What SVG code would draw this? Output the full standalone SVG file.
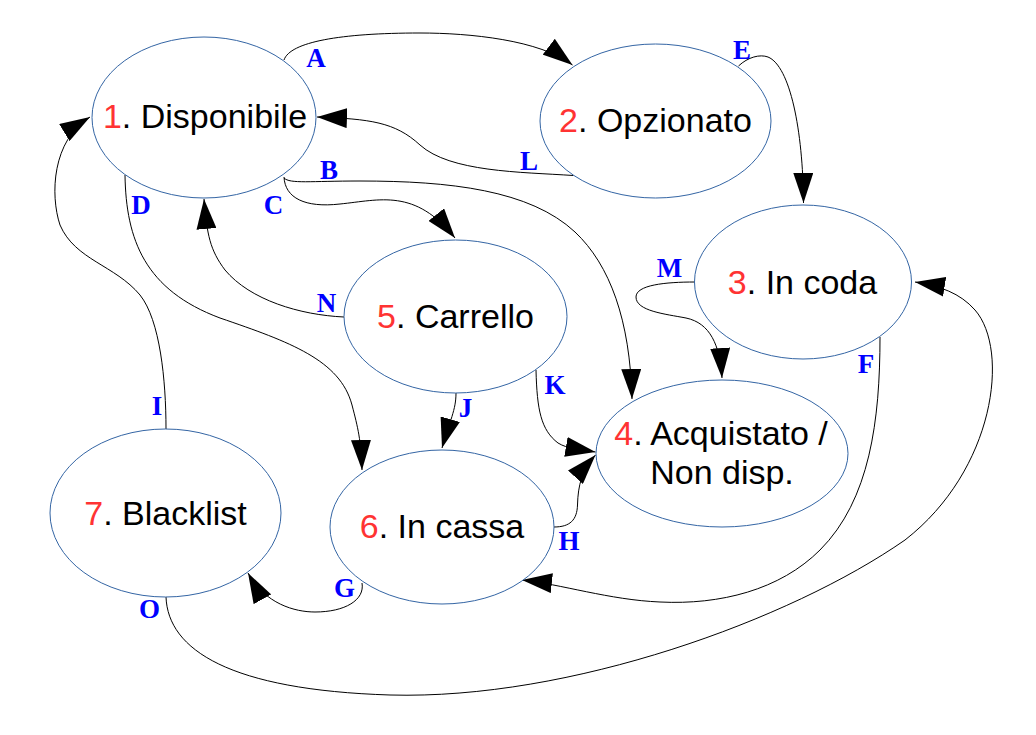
<svg xmlns="http://www.w3.org/2000/svg" width="1036" height="735" viewBox="0 0 1036 735">
<defs>
<marker id="arr" markerWidth="30" markerHeight="20" refX="30" refY="10" orient="auto" markerUnits="userSpaceOnUse" viewBox="0 0 30 20"><path d="M0,0 L30,10 L0,20 Z" fill="#000"/></marker>
<style>
.node ellipse{fill:#fff;stroke:#3465a4;stroke-width:1}
.node text{font-family:"Liberation Sans",Arial,sans-serif;font-size:34px;fill:#000;text-anchor:middle}
.num{fill:#ff3333}
.edge{fill:none;stroke:#000;stroke-width:1;marker-end:url(#arr)}
.lbl{font-family:"Liberation Serif","Times New Roman",serif;font-weight:bold;font-size:27px;fill:#0000ff;text-anchor:middle}
</style>
</defs>
<rect width="1036" height="735" fill="#fff"/>
<g id="connectors">
<path class="edge" d="M284,60 C290,42 340,33 420,33 C470,33 540,40 572.5,65"/>
<path class="edge" d="M738.5,66 C748,57 760,54 768,57 C790,66 803,130 803.5,203"/>
<path class="edge" d="M573.5,175.5 C520,172 450,172 420,145 C395,122 370,119 317,117"/>
<path class="edge" d="M284,178 C290,184 310,181 360,181 C450,181 530,190 575,232 C610,265 630,320 632,399"/>
<path class="edge" d="M284,177 C285,198 305,208 340,204 C380,200 415,188 455,238"/>
<path class="edge" d="M125,175 C126,240 145,290 220,318 C290,342 340,360 352,405 C358,428 361,440 362,470"/>
<path class="edge" d="M344,317 C300,315 250,300 225,270 C210,250 207,235 204,199"/>
<path class="edge" d="M166,429 C166,380 160,320 140,295 C115,265 75,260 60,225 C50,195 52,140 90,117"/>
<path class="edge" d="M362,583 C365,600 345,612 315,612 C295,612 265,604 248,573"/>
<path class="edge" d="M166,597 C168,650 230,690 390,695 C570,700 790,620 905,540 C995,470 1010,350 975,310 C960,293 940,286 915,282"/>
<path class="edge" d="M880,337 C880,420 870,500 820,550 C780,590 720,605 660,602 C610,600 560,584 522,580"/>
<path class="edge" d="M554,527 C570,527 577,520 577.5,505 C578,485 582,470 595.5,455"/>
<path class="edge" d="M536,370 C537,410 541,430 558,443 C568,449 578,449 595.5,452"/>
<path class="edge" d="M456,393 C456,410 450,420 442,448"/>
<path class="edge" d="M695,282 C665,282 636,285 636,297 C636,311 665,314 686,318 C710,323 720,345 722,378"/>
</g>
<g id="labels">
<text class="lbl" x="316" y="67">A</text>
<text class="lbl" x="329" y="179">B</text>
<text class="lbl" x="273.5" y="214">C</text>
<text class="lbl" x="141" y="214">D</text>
<text class="lbl" x="742" y="58.5">E</text>
<text class="lbl" x="866" y="373">F</text>
<text class="lbl" x="344.5" y="597">G</text>
<text class="lbl" x="569" y="550">H</text>
<text class="lbl" x="157" y="415">I</text>
<text class="lbl" x="465.5" y="417">J</text>
<text class="lbl" x="555" y="394">K</text>
<text class="lbl" x="529" y="170">L</text>
<text class="lbl" x="669.5" y="277">M</text>
<text class="lbl" x="326.5" y="312">N</text>
<text class="lbl" x="149.5" y="618">O</text>
</g>
<g id="n1" class="node"><ellipse cx="204" cy="117.5" rx="112" ry="80.5"/><text x="205" y="128"><tspan class="num">1</tspan>. Disponibile</text></g>
<g id="n2" class="node"><ellipse cx="655.5" cy="121" rx="115.5" ry="77"/><text x="655.5" y="132"><tspan class="num">2</tspan>. Opzionato</text></g>
<g id="n3" class="node"><ellipse cx="803" cy="282" rx="108.5" ry="77"/><text x="802.5" y="294"><tspan class="num">3</tspan>. In coda</text></g>
<g id="n4" class="node"><ellipse cx="722" cy="453.5" rx="126" ry="73.5"/><text x="721" y="445"><tspan class="num">4</tspan>. Acquistato /</text><text x="722" y="484">Non disp.</text></g>
<g id="n5" class="node"><ellipse cx="455.5" cy="316.5" rx="111.5" ry="76.5"/><text x="455.5" y="328"><tspan class="num">5</tspan>. Carrello</text></g>
<g id="n6" class="node"><ellipse cx="442" cy="527" rx="112" ry="77"/><text x="442" y="538"><tspan class="num">6</tspan>. In cassa</text></g>
<g id="n7" class="node"><ellipse cx="165.5" cy="513" rx="115.5" ry="84"/><text x="165.5" y="525"><tspan class="num">7</tspan>. Blacklist</text></g>
</svg>
